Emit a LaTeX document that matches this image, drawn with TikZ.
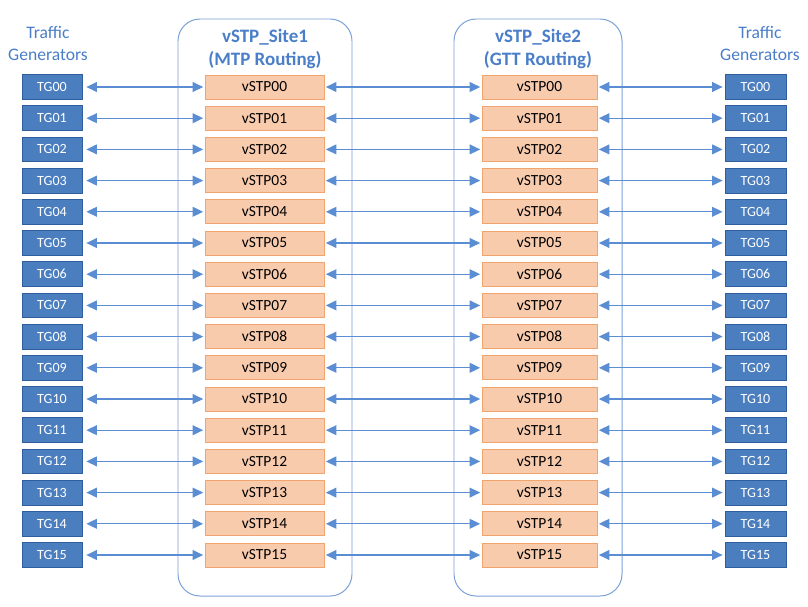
\documentclass[tikz,border=0pt]{standalone}
\usepackage{fontspec}
\setmainfont{Carlito}
\usetikzlibrary{arrows.meta}
\definecolor{tgblue}{HTML}{4A7EBF}
\definecolor{tgedge}{HTML}{2F5E9E}
\definecolor{stpfill}{HTML}{F8CBAD}
\definecolor{stpedge}{HTML}{F2A46E}
\definecolor{siteedge}{HTML}{7BA0D8}
\definecolor{titleblue}{HTML}{4A7EC8}
\definecolor{linkblue}{HTML}{5B8DD3}
\begin{document}
\begin{tikzpicture}[x=0.025cm,y=-0.025cm,
  tgbox/.style={draw=tgedge,fill=tgblue,text=white,minimum width=1.5cm,minimum height=0.62cm,inner sep=0pt,line width=0.6pt,font=\fontsize{10}{12}\selectfont},
  stpbox/.style={draw=stpedge,fill=stpfill,minimum height=0.6cm,inner sep=0pt,line width=0.6pt,font=\fontsize{11}{13}\selectfont},
  site/.style={draw=siteedge,rounded corners=0.55cm,line width=0.7pt},
  sitetitle/.style={text=titleblue,align=center,font=\fontsize{13.5}{16.4}\selectfont\bfseries},
  tgtitle/.style={text=titleblue,align=center,font=\fontsize{12.5}{15}\selectfont},
  link/.style={draw=linkblue,line width=0.9pt,{Triangle[length=7.5pt,width=7pt]}-{Triangle[length=7.5pt,width=7pt]}}]
\useasboundingbox (0,0) rectangle (808,606);
% sites
\draw[site] (178,19) rectangle (352,596);
\draw[site] (454,19) rectangle (622,596);
\node[sitetitle] (siteone) at (265,48.5) {vSTP\_Site1\\(MTP Routing)};
\node[sitetitle] (sitetwo) at (538,48.5) {vSTP\_Site2\\(GTT Routing)};
\node[tgtitle] (gensleft) at (48,43.5) {Traffic\\Generators};
\node[tgtitle] (gensright) at (760,43.5) {Traffic\\Generators};
% rows
\foreach \n [count=\i from 0] in {00,01,02,03,04,05,06,07,08,09,10,11,12,13,14,15}{
  \pgfmathsetmacro{\y}{87+31.2*\i}
  \node[tgbox] (tgl\i) at (52,\y) {TG\n};
  \node[stpbox,minimum width=2.975cm] (stpa\i) at (264.5,\y) {vSTP\n};
  \node[stpbox,minimum width=2.875cm] (stpb\i) at (539.5,\y) {vSTP\n};
  \node[tgbox,minimum width=1.525cm] (tgr\i) at (755.5,\y) {TG\n};
  \draw[link,shorten <=2.8pt,shorten >=1pt] (tgl\i) -- (stpa\i);
  \draw[link,shorten <=1pt,shorten >=1pt] (stpa\i) -- (stpb\i);
  \draw[link,shorten <=1pt,shorten >=1.4pt] (stpb\i) -- (tgr\i);
}
\end{tikzpicture}
\end{document}
